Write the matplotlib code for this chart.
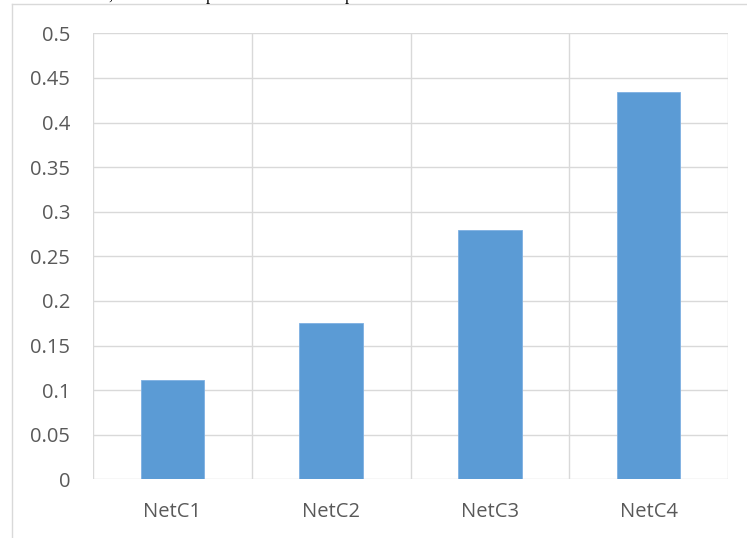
import matplotlib
matplotlib.use("Agg")
import matplotlib.pyplot as plt
from matplotlib.lines import Line2D
import numpy as np

# data
categories = ["NetC1", "NetC2", "NetC3", "NetC4"]
values = [0.111, 0.175, 0.279, 0.434]
y_ticks = [0, 0.05, 0.1, 0.15, 0.2, 0.25, 0.3, 0.35, 0.4, 0.45, 0.5]
y_tick_labels = ["0", "0.05", "0.1", "0.15", "0.2", "0.25", "0.3", "0.35", "0.4", "0.45", "0.5"]

W, H = 747, 538
grid_col = "#D9D9D9"
text_col = "#595959"
bar_col = "#5B9BD5"

plt.rcParams["font.family"] = ["Open Sans", "DejaVu Sans"]

fig = plt.figure(figsize=(W / 100, H / 100), dpi=100)
ax = fig.add_axes([93 / W, (H - 479.3) / H, (728 - 93) / W, (479.3 - 33.3) / H])

x = np.arange(len(categories))
ax.bar(x, values, width=0.4, color=bar_col, edgecolor="#7EB0E2", linewidth=0.6, zorder=3)

ax.set_xlim(-0.5, len(categories) - 0.5)
ax.set_ylim(0, 0.5)
ax.set_yticks(y_ticks)
ax.set_yticklabels(y_tick_labels)
ax.set_xticks(x)
ax.set_xticklabels(categories)

# gridlines: horizontal at each tick, vertical at category boundaries
for yv in y_ticks:
    ax.axhline(yv, color=grid_col, lw=1.0, zorder=1)
for xv in np.arange(len(categories) + 1) - 0.5:
    ax.axvline(xv, color=grid_col, lw=1.0, zorder=1)

for s in ax.spines.values():
    s.set_visible(False)

ax.tick_params(axis="both", length=0, labelsize=14.5, labelcolor=text_col)
ax.tick_params(axis="y", pad=16.5)
ax.tick_params(axis="x", pad=16)

# chart frame, cut off by the screenshot on right and bottom
fx = 11.5 / W
fy = 1 - 4 / H
fig.add_artist(Line2D([fx, fx], [0, fy], color=grid_col, lw=1.0, transform=fig.transFigure))
fig.add_artist(Line2D([fx, 1], [fy, fy], color=grid_col, lw=1.0, transform=fig.transFigure))

# bits of document text above the chart (cut off in the screenshot too)
for tx, ch in [(108, ","), (206, "p"), (345, "p")]:
    fig.text(tx / W, 1.0, ch, fontsize=12, family="Liberation Serif", color="black", va="baseline")

fig.savefig("out.png", dpi=100)
